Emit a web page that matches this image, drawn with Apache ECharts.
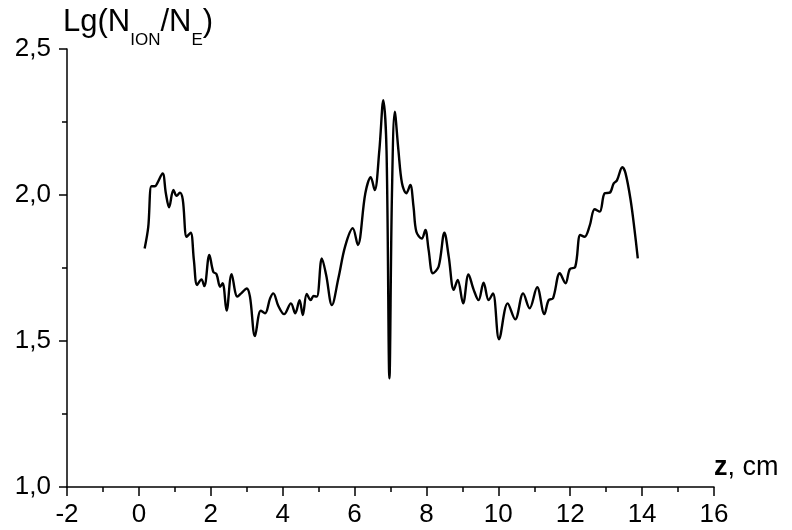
<!DOCTYPE html>
<html>
<head>
<meta charset="utf-8">
<script src="https://cdn.jsdelivr.net/npm/echarts@6/dist/echarts.min.js"></script>
<style>
html,body{margin:0;padding:0;background:#fff;}
#chart{width:792px;height:530px;}
</style>
</head>
<body>
<div id="chart"></div>
<script>
// z positions (cm)
var zValues = [0.16,0.26,0.35,0.45,0.51,0.66,0.75,0.84,0.96,1.05,1.14,1.22,1.33,1.44,1.53,1.62,1.74,1.82,1.96,2.07,2.16,2.26,2.33,2.44,2.58,2.74,2.86,3.00,3.09,3.23,3.39,3.51,3.65,3.74,3.88,4.04,4.23,4.35,4.47,4.56,4.67,4.78,4.86,4.95,5.09,5.21,5.37,5.55,5.74,5.95,6.09,6.30,6.45,6.56,6.69,6.80,6.89,6.97,7.04,7.12,7.22,7.32,7.44,7.55,7.64,7.72,7.87,7.97,8.06,8.18,8.34,8.50,8.62,8.76,8.87,9.02,9.17,9.31,9.45,9.59,9.73,9.85,10.02,10.26,10.47,10.69,10.87,11.08,11.28,11.40,11.52,11.71,11.87,11.99,12.14,12.28,12.40,12.54,12.68,12.82,12.96,13.10,13.21,13.30,13.45,13.54,13.68,13.79,13.88];
// Lg(N_ION/N_E)
var lgValues = [1.817,1.89,2.03,2.03,2.04,2.074,2.006,1.958,2.017,1.997,2.008,1.985,1.857,1.871,1.777,1.692,1.711,1.688,1.795,1.737,1.729,1.686,1.698,1.604,1.729,1.652,1.665,1.68,1.652,1.517,1.604,1.595,1.646,1.663,1.62,1.592,1.629,1.595,1.64,1.589,1.661,1.64,1.654,1.652,1.783,1.726,1.623,1.715,1.825,1.886,1.829,2.006,2.061,2.017,2.154,2.325,2.15,1.372,2.0,2.285,2.154,2.04,2.006,2.034,1.96,1.874,1.851,1.88,1.812,1.732,1.755,1.871,1.789,1.675,1.709,1.629,1.728,1.677,1.64,1.70,1.64,1.663,1.506,1.629,1.574,1.663,1.612,1.684,1.592,1.64,1.646,1.732,1.698,1.746,1.754,1.863,1.857,1.894,1.951,1.943,2.006,2.008,2.04,2.05,2.095,2.074,1.983,1.88,1.783];
// axis ticks
var xTicks = [-2,0,2,4,6,8,10,12,14,16];
var yTicks = [1.0,1.5,2.0,2.5];

var seriesData = zValues.map(function(z,i){return [z, lgValues[i]];});
var font = 'Liberation Sans, Arial, sans-serif';
var chart = echarts.init(document.getElementById('chart'), null, {renderer:'canvas'});
chart.setOption({
  animation:false,
  backgroundColor:'#fff',
  grid:{left:67,right:78,top:49,bottom:43,containLabel:false},
  xAxis:{
    type:'value', min:xTicks[0], max:xTicks[xTicks.length-1], interval:2,
    name:'{b|z}, cm', nameLocation:'end', nameGap:0,
    nameTextStyle:{fontFamily:font,fontSize:27,color:'#000',verticalAlign:'bottom',align:'left',padding:[0,0,6,0],
      rich:{b:{fontFamily:font,fontSize:27,fontWeight:'bold',color:'#000'}}},
    axisLine:{show:true,onZero:false,lineStyle:{color:'#000',width:1.5}},
    axisTick:{show:true,inside:false,length:9,lineStyle:{color:'#000',width:1.5}},
    minorTick:{show:true,splitNumber:2,length:5,lineStyle:{color:'#000',width:1.5}},
    splitLine:{show:false},
    axisLabel:{margin:15,fontFamily:font,fontSize:26,color:'#000',
      formatter:function(v){return String(v);}}
  },
  yAxis:{
    type:'value', min:yTicks[0], max:yTicks[yTicks.length-1], interval:0.5,
    name:'{h|\u200b}{m|Lg(N}{s|ION}{m|/N}{s|E}{m|)}', nameLocation:'end', nameGap:0,
    nameTextStyle:{align:'left',verticalAlign:'bottom',padding:[0,0,0,-4],
      rich:{h:{fontFamily:font,fontSize:10,lineHeight:42,verticalAlign:'top'},
            m:{fontFamily:font,fontSize:31,color:'#000',lineHeight:32,verticalAlign:'top'},
            s:{fontFamily:font,fontSize:17,color:'#000',lineHeight:19,verticalAlign:'bottom'}}},
    axisLine:{show:true,onZero:false,lineStyle:{color:'#000',width:1.5}},
    axisTick:{show:true,inside:false,length:8,lineStyle:{color:'#000',width:1.5}},
    minorTick:{show:true,splitNumber:2,length:5,lineStyle:{color:'#000',width:1.5}},
    splitLine:{show:false},
    axisLabel:{margin:16,fontFamily:font,fontSize:26,color:'#000',
      formatter:function(v){return v.toFixed(1).replace('.',',');}}
  },
  series:[{
    type:'line', data:seriesData, smooth:0.35, symbol:'none',
    lineStyle:{color:'#000',width:2.4}
  }]
});
</script>
</body>
</html>
